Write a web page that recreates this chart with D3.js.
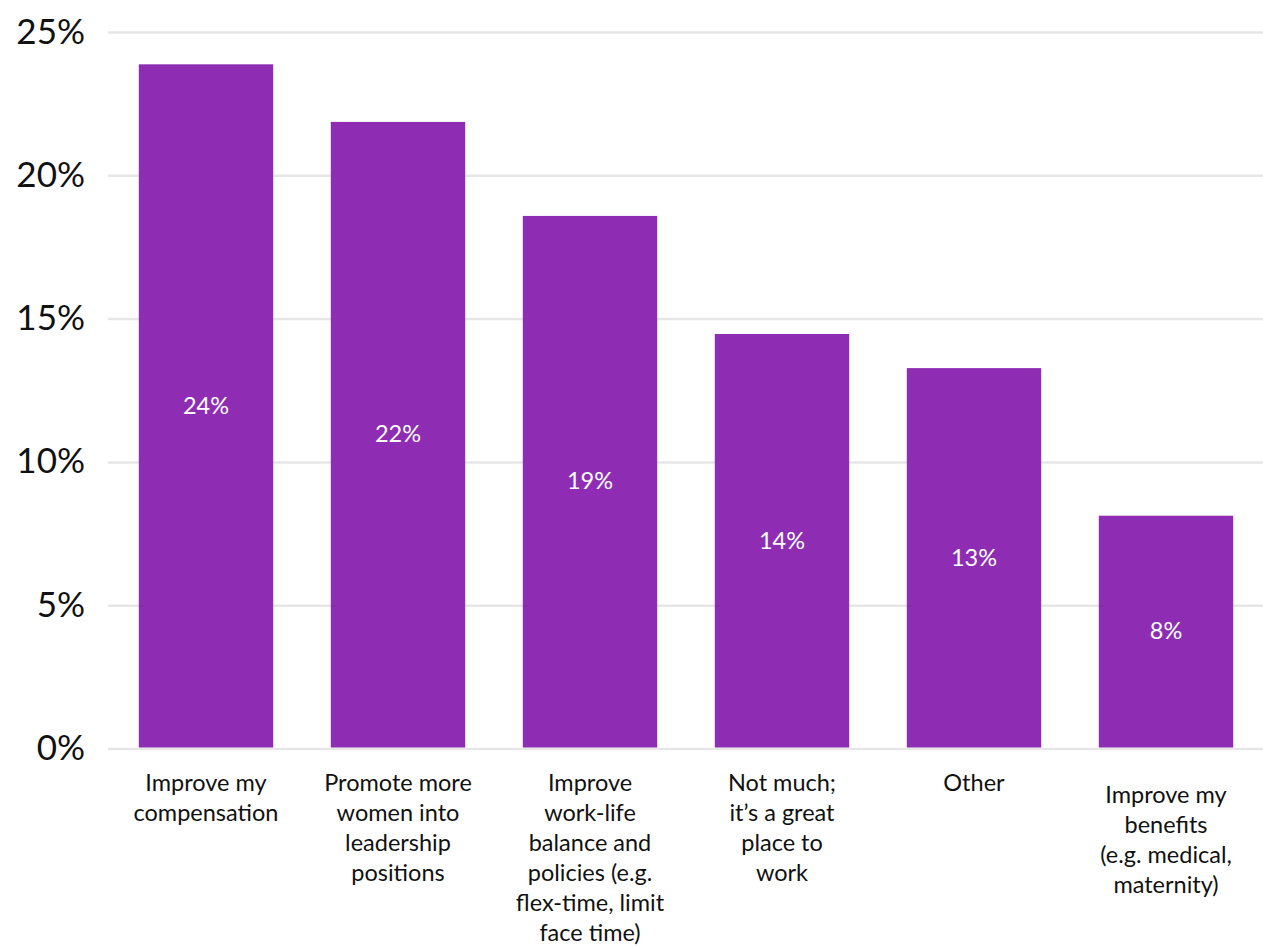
<!DOCTYPE html>
<html><head><meta charset="utf-8">
<script src="https://cdn.jsdelivr.net/npm/d3@7"></script>
<style>
html,body{margin:0;padding:0;background:#fff;}
svg{display:block;font-family:Lato,"Noto Sans",sans-serif;}
</style></head>
<body><svg id="chart" width="1263" height="946"></svg>
<script>
const categories = [
  ["Improve my","compensation"],
  ["Promote more","women into","leadership","positions"],
  ["Improve","work-life","balance and","policies (e.g.","flex-time, limit","face time)"],
  ["Not much;","it\u2019s a great","place to","work"],
  ["Other"],
  ["Improve my","benefits","(e.g. medical,","maternity)"]
];
const values = [23.89, 21.88, 18.6, 14.48, 13.29, 8.14];
const valueLabels = ["24%","22%","19%","14%","13%","8%"];
const yTicks = [0,5,10,15,20,25];

const svg = d3.select("#chart");
const x = d3.scaleBand().domain(d3.range(categories.length)).range([110,1262]).paddingInner(0.3).paddingOuter(0.15);
const y = d3.scaleLinear().domain([0,25]).range([749,32.5]);

// gridlines
svg.append("g").selectAll("line").data(yTicks).join("line")
  .attr("x1",108).attr("x2",1263)
  .attr("y1",d=>y(d)).attr("y2",d=>y(d))
  .attr("stroke","#e6e6e6").attr("stroke-width",2.5);

// y labels
svg.append("g").selectAll("text").data(yTicks).join("text")
  .attr("x",85).attr("y",d=>y(d)+11)
  .attr("text-anchor","end").attr("font-size",35).attr("fill","#111")
  .text(d=>d+"%");

// bars
svg.append("g").selectAll("rect").data(values).join("rect")
  .attr("x",(d,i)=>x(i)).attr("width",x.bandwidth())
  .attr("y",d=>y(d)).attr("height",d=>y(0)-1.5-y(d))
  .attr("fill","#8e2db3");

// value labels
svg.append("g").selectAll("text").data(values).join("text")
  .attr("x",(d,i)=>x(i)+x.bandwidth()/2)
  .attr("y",d=>(y(d)+y(0))/2+7)
  .attr("text-anchor","middle").attr("font-size",23.5).attr("fill","#fff")
  .text((d,i)=>valueLabels[i]);

// category labels
const cl = svg.append("g").selectAll("text").data(categories).join("text")
  .attr("x",(d,i)=>x(i)+x.bandwidth()/2)
  .attr("y",(d,i)=>i===categories.length-1?803:791)
  .attr("text-anchor","middle").attr("font-size",23.5).attr("fill","#111");
cl.each(function(lines){
  const t=d3.select(this);
  const cx=t.attr("x");
  lines.forEach((s,j)=>t.append("tspan").attr("x",cx).attr("dy",j===0?0:30).text(s));
});
</script></body></html>
